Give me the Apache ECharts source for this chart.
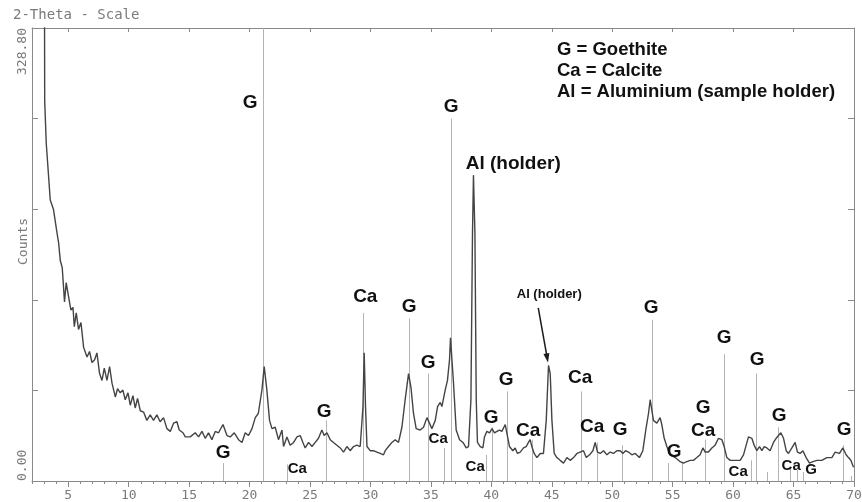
<!DOCTYPE html>
<html><head><meta charset="utf-8">
<script src="https://cdn.jsdelivr.net/npm/echarts@6/dist/echarts.min.js"></script>
<style>html,body{margin:0;padding:0;background:#fff}#c{width:862px;height:502px}</style>
</head><body><div id="c"></div>
<script>
// ---- data ----
const twoTheta = [2.98,3.05,3.18,3.51,3.78,4.07,4.20,4.34,4.50,4.69,4.83,5.02,5.22,5.39,5.50,5.66,5.85,6.05,6.27,6.55,6.76,6.96,7.18,7.37,7.59,7.79,7.98,8.20,8.42,8.62,8.89,9.08,9.30,9.52,9.71,9.94,10.13,10.35,10.54,10.73,10.96,11.23,11.50,11.78,12.05,12.33,12.60,12.88,13.16,13.44,13.71,13.99,14.18,14.49,14.68,15.09,15.50,15.78,16.06,16.33,16.60,16.88,17.16,17.43,17.80,18.13,18.40,18.73,19.09,19.37,19.64,19.91,20.20,20.47,20.72,21.02,21.21,21.43,21.65,21.85,22.12,22.39,22.68,22.81,23.09,23.36,23.64,23.92,24.19,24.41,24.60,24.88,25.16,25.43,25.70,25.98,26.17,26.40,26.67,26.94,27.22,27.50,27.77,28.05,28.32,28.60,28.88,29.15,29.38,29.48,29.59,29.71,29.98,30.25,30.53,30.81,31.08,31.22,31.49,31.77,32.05,32.32,32.60,32.87,33.15,33.35,33.56,33.78,34.11,34.39,34.67,34.88,35.08,35.36,35.55,35.77,35.91,36.18,36.37,36.54,36.62,36.87,37.09,37.37,37.65,37.92,38.11,38.31,38.44,38.52,38.64,38.75,38.85,39.08,39.30,39.43,39.63,39.85,40.05,40.26,40.46,40.67,40.87,41.15,41.28,41.50,41.78,41.97,42.16,42.39,42.66,42.88,43.07,43.21,43.35,43.54,43.77,44.04,44.31,44.54,44.73,44.87,45.01,45.20,45.42,45.69,45.97,46.25,46.52,46.80,47.08,47.35,47.62,47.85,48.12,48.40,48.59,48.78,49.00,49.28,49.56,49.83,50.10,50.38,50.66,50.88,51.10,51.34,51.62,51.90,52.25,52.53,52.81,53.00,53.14,53.41,53.69,53.96,54.10,54.30,54.52,54.79,55.21,55.62,55.89,56.17,56.45,56.72,57.00,57.27,57.50,57.69,57.96,58.24,58.51,58.79,59.07,59.26,59.48,59.76,60.03,60.31,60.58,60.86,61.08,61.27,61.55,61.74,61.96,62.18,62.38,62.57,62.79,63.06,63.34,63.56,63.75,63.95,64.17,64.39,64.58,64.86,65.13,65.32,65.54,65.77,66.04,66.32,66.60,66.93,67.34,67.75,68.17,68.44,68.80,69.08,69.35,69.54,69.74,69.96];
const counts = [600,276,245,204,197,180,173,160,155,130,144,134,124,126,112,122,110,115,97,90,94,86,88,93,78,73,82,73,83,71,61,67,64,66,59,64,55,62,53,60,51,50,44,48,44,48,43,46,38,36,42,43,37,35,32,32,35,32,36,31,35,30,36,35,41,33,32,35,30,28,35,33,38,46,49,66,83,66,44,38,39,30,37,25,32,26,28,32,33,28,24,28,25,28,31,37,33,35,30,28,26,24,21,25,22,25,26,25,54,93,54,25,22,22,21,20,19,22,25,28,30,28,39,59,78,68,49,38,37,39,46,42,38,44,54,57,54,66,73,88,104,71,37,30,28,24,25,59,180,222,180,59,28,25,24,32,36,35,38,35,36,37,36,41,35,25,22,24,20,21,24,25,28,30,25,20,17,20,20,44,84,78,44,20,17,15,13,17,15,17,20,21,22,17,19,22,28,21,20,22,19,21,20,22,22,20,22,21,19,20,17,22,39,49,59,44,42,46,41,31,25,19,17,14,13,14,15,15,17,19,24,21,21,24,26,31,30,25,17,15,15,15,15,19,26,32,31,26,22,25,22,25,24,22,28,31,33,35,31,22,20,24,28,21,20,22,17,13,14,15,15,17,17,21,20,24,19,17,15,10];

// reference-pattern sticks (2θ, height in counts)
const stickPos    = [17.82,21.13,23.11,26.34,29.40,33.20,34.78,36.10,36.68,39.57,40.07,41.31,43.38,47.43,48.75,50.82,53.30,54.63,55.79,57.69,59.26,61.49,61.90,62.82,63.73,64.72,65.30,65.80,69.10,69.76];
const stickHeight = [13,328.8,12,44,122,118,78,24,263,19,39,65,30,65,28,26,117,13,14,30,92,15,78,6.5,39,10,8,6.5,26,3.6];

// phase labels (text, 2θ, counts)
const bigLabelText = ['G','G','G','Ca','G','G','G','Al (holder)','G','G','Ca','Ca','Ca','G','G','G','G','Ca','G','G','G','G'];
const bigLabelX    = [17.82,20.05,26.17,29.57,33.20,34.78,36.68,41.81,39.99,41.23,43.05,47.35,48.34,50.66,53.22,55.12,57.52,57.52,59.26,61.99,63.81,69.18];
const bigLabelY    = [20.3,274.4,50.1,133.5,126.3,85.6,271.4,230.1,45.7,73.3,36.3,74.8,39.2,37,125.6,21,53,36.3,103.8,87.8,47.2,37];
const smallLabelText = ['Ca','Ca','Ca','Ca','Ca','G'];
const smallLabelX    = [23.94,35.60,38.66,60.42,64.80,66.46];
const smallLabelY    = [8.7,30.5,10.2,6.5,10.9,8];
const noteText = ['Al (holder)'];
const noteX    = [44.79];
const noteY    = [135.7];
const arrowFrom = [43.88,125.6];
const arrowTo   = [44.62,89.3];

const xMin = 2, xMax = 70;
const yMin = 0, yMax = 328.8, yStep = 65.76;
const xTickLabels = [5,10,15,20,25,30,35,40,45,50,55,60,65,70];
const xTopTicks = [5,10,15,20,25,30,35,40,45,50,55,60,65];
const yTickLabels = {0:'0.00', 328.8:'328.80'};
const legendLines = ['G = Goethite','Ca = Calcite','Al = Aluminium (sample holder)'];
const titleText = '2-Theta - Scale';
const yName = 'Counts';

// ---- chart ----
const mono = '"DejaVu Sans Mono", monospace';
const bold = '"Liberation Sans", Arial, sans-serif';
const gray = '#7a7a7a';
const frame = '#8a8a8a';
const chart = echarts.init(document.getElementById('c'), null, {renderer:'canvas'});

function labelSeries(texts, xs, ys, size){
  return {
    type:'custom', xAxisIndex:0, yAxisIndex:0, silent:true, z:5, clip:false,
    data: xs.map((x,i)=>[x, ys[i]]),
    renderItem(params, api){
      const i = params.dataIndex;
      const c = api.coord([api.value(0), api.value(1)]);
      return {type:'text', x:c[0], y:c[1],
        style:{text:texts[i], fill:'#111', font:'bold '+size+'px '+bold, align:'center', verticalAlign:'middle'}};
    }
  };
}

chart.setOption({
  animation:false,
  backgroundColor:'#fff',
  title:{text:titleText, left:8, top:3, textStyle:{fontFamily:mono, fontSize:14, fontWeight:'normal', color:gray}},
  grid:{left:32, right:8, top:28, bottom:21, outerBoundsMode:'none', containLabel:false},
  xAxis:[
    {type:'value', position:'bottom', min:xMin, max:xMax, interval:1,
     axisLine:{show:true, onZero:false, lineStyle:{color:frame, width:1}},
     axisTick:{show:true, inside:false, length:3, interval:0, lineStyle:{color:frame}},
     axisLabel:{show:false}, splitLine:{show:false}},
    {type:'value', position:'bottom', min:xMin, max:xMax,
     axisLine:{show:false},
     axisTick:{show:true, inside:false, length:6, customValues:xTickLabels, lineStyle:{color:frame}},
     axisLabel:{show:true, customValues:xTickLabels, margin:8, fontFamily:mono, fontSize:13, color:gray},
     splitLine:{show:false}},
    {type:'value', position:'top', min:xMin, max:xMax,
     axisLine:{show:true, onZero:false, lineStyle:{color:frame, width:1}},
     axisTick:{show:true, inside:true, length:4, customValues:xTopTicks, lineStyle:{color:frame}},
     axisLabel:{show:false}, splitLine:{show:false}}
  ],
  yAxis:[
    {type:'value', position:'left', min:yMin, max:yMax, interval:yStep,
     name:yName, nameLocation:'middle', nameRotate:90, nameGap:2, nameMoveOverlap:false,
     nameTextStyle:{fontFamily:mono, fontSize:13, color:gray, padding:[0,0,0,26]},
     axisLine:{show:true, onZero:false, lineStyle:{color:frame, width:1}},
     axisTick:{show:true, inside:true, length:6, lineStyle:{color:frame}},
     axisLabel:{show:true, rotate:90, margin:3, fontFamily:mono, fontSize:13, color:gray,
       alignMinLabel:'left', alignMaxLabel:'right', interval:0,
       formatter:function(v){ for (const k in yTickLabels){ if (Math.abs(v-Number(k))<0.01) return yTickLabels[k]; } return ''; }},
     splitLine:{show:false}},
    {type:'value', position:'right', min:yMin, max:yMax, interval:yStep,
     axisLine:{show:true, onZero:false, lineStyle:{color:frame, width:1}},
     axisTick:{show:true, inside:true, length:6, lineStyle:{color:frame}},
     axisLabel:{show:false}, splitLine:{show:false}}
  ],
  graphic: legendLines.map((t,i)=>({type:'text', left:557, top:40+i*21,
     style:{text:t, fill:'#111', font:'bold 18.5px '+bold}})),
  series:[
    {type:'custom', xAxisIndex:0, yAxisIndex:0, silent:true, z:1,
     data: stickPos.map((p,i)=>[p, stickHeight[i]]),
     renderItem(params, api){
       const a = api.coord([api.value(0), 0]);
       const b = api.coord([api.value(0), api.value(1)]);
       const x = Math.round(a[0]) + 0.5;
       return {type:'line', shape:{x1:x, y1:a[1], x2:x, y2:b[1]}, style:{stroke:'#b4b4b4', lineWidth:1}};
     }},
    {type:'line', xAxisIndex:0, yAxisIndex:0, z:3, showSymbol:false, symbol:'none', clip:true,
     data: twoTheta.map((x,i)=>[x, counts[i]]),
     lineStyle:{color:'#444', width:1.4},
     markLine:{silent:true, symbol:['none','triangle'], symbolSize:[6,9], label:{show:false},
       lineStyle:{color:'#1a1a1a', width:1.5, type:'solid'},
       data:[[{coord:arrowFrom},{coord:arrowTo}]]}},
    labelSeries(bigLabelText, bigLabelX, bigLabelY, 19),
    labelSeries(smallLabelText, smallLabelX, smallLabelY, 15),
    labelSeries(noteText, noteX, noteY, 13)
  ]
});
</script></body></html>
